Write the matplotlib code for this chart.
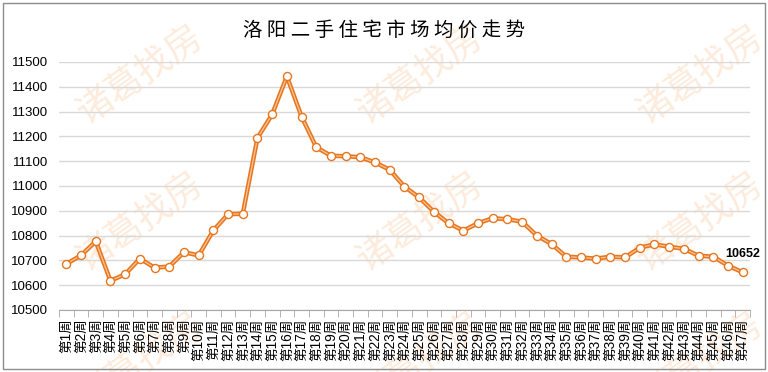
import matplotlib
matplotlib.use("Agg")
import matplotlib.pyplot as plt
from matplotlib.patches import Rectangle

plt.rcParams['font.family'] = ['Liberation Sans', 'Noto Sans CJK SC', 'DejaVu Sans']

# data
weeks = ["第%d周" % i for i in range(1, 48)]
prices = [10686, 10720, 10777, 10618, 10644, 10707, 10671, 10675, 10733, 10720,
          10821, 10886, 10888, 11194, 11289, 11442, 11280, 11156, 11122, 11120,
          11116, 11095, 11065, 10997, 10954, 10896, 10850, 10820, 10850, 10870,
          10866, 10856, 10800, 10766, 10715, 10712, 10707, 10715, 10712, 10751,
          10765, 10755, 10747, 10719, 10715, 10679, 10652]
y_ticks = list(range(10500, 11501, 100))
title = "洛阳二手住宅市场均价走势"
watermark = "诸葛找房"

orange = "#E8761F"
x = list(range(len(prices)))

fig = plt.figure(figsize=(7.68, 3.72), dpi=100)

# watermarks on a background axes
bg = fig.add_axes([0, 0, 1, 1], zorder=0)
bg.set_axis_off()
bg.set_xlim(0, 768)
bg.set_ylim(372, 0)
for wy in [75, 222, 362]:
    for wx in [140, 420, 700]:
        bg.text(wx, wy, watermark, fontsize=26, rotation=35,
                color="#fdebdc", ha="center", va="center",
                family=['Noto Sans CJK SC'])

ax = fig.add_axes([59/768, 1-310/372, (750-59)/768, (310-62)/372], zorder=1)
ax.set_facecolor("none")
ax.plot(x, prices, color=orange, lw=3.2, zorder=3, solid_joinstyle="round")
ax.plot(x, prices, color="#f8c79c", lw=0.9, zorder=4)
ax.plot(x, prices, ls="none", marker="o", ms=5.8, mfc="white", mec=orange,
        mew=1.0, zorder=5)

ax.set_xlim(-0.5, len(prices) - 0.5)
ax.set_ylim(10500, 11500)
ax.set_yticks(y_ticks)
ax.set_yticklabels([str(v) for v in y_ticks], fontsize=9.5)
ax.grid(axis="y", color="#d9d9d9", lw=1)
ax.set_axisbelow(True)

ax.set_xticks(x)
ax.set_xticklabels(weeks, rotation=90, fontsize=9.8, va="top")
ax.set_xticks([i - 0.5 for i in range(len(prices) + 1)], minor=True)
ax.tick_params(axis="x", which="major", length=0, pad=6)
ax.tick_params(axis="x", which="minor", length=5, color="#a6a6a6")
ax.tick_params(axis="y", length=0, pad=8)

for s in ["left", "right", "top"]:
    ax.spines[s].set_visible(False)
ax.spines["bottom"].set_color("#a6a6a6")

ax.annotate(str(prices[-1]), (x[-1], prices[-1]), xytext=(0, 13),
            textcoords="offset points", ha="center", va="center",
            fontsize=9, fontweight="bold", zorder=6)

fig.text(0.5, 1-30/372, " ".join(title), fontsize=14, ha="center", va="center",
         family=['Noto Sans CJK SC'])

fig.patches.append(Rectangle((3/768, 3/372), 762/768, 366/372, transform=fig.transFigure,
                             fill=False, edgecolor="#8c8c8c", lw=1))

fig.savefig("out.png", dpi=100)
